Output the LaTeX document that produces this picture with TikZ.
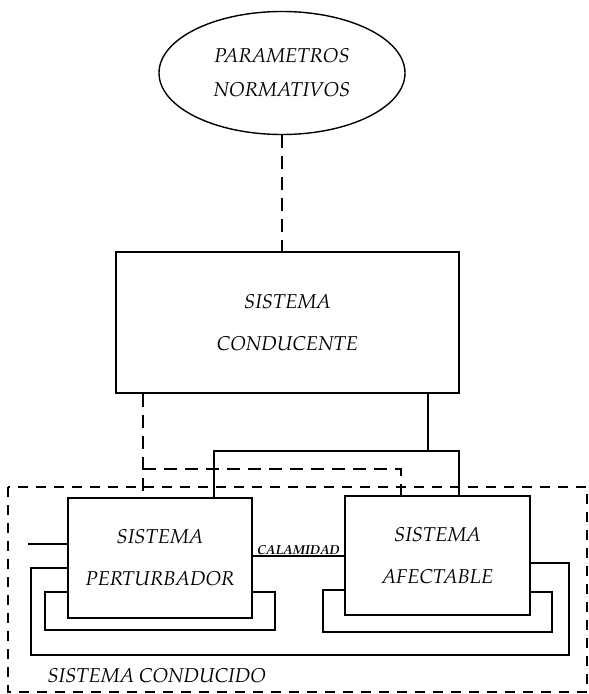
\documentclass[tikz,border=0pt]{standalone}
\usepackage[T1]{fontenc}
\usepackage{mathpazo}
\usepackage{tikz}
\usetikzlibrary{positioning}
\usetikzlibrary{shapes.geometric}

\begin{document}
\begin{tikzpicture}[
  x=1pt, y=-1pt,
  font=\fontsize{20}{42}\selectfont\itshape,
  sysbox/.style={draw, line width=1.4pt, align=center},
  oval/.style={draw, ellipse, line width=1.4pt, align=center, font=\fontsize{20}{34}\selectfont\itshape},
  wline/.style={line width=1.3pt},
  dline/.style={line width=1.3pt, dash pattern=on 13pt off 8pt},
  frame/.style={line width=1.3pt, dash pattern=on 10pt off 8pt},
  tag/.style={font=\fontsize{13}{15}\selectfont\bfseries\itshape, inner sep=0.6pt}
]
\useasboundingbox (0,0) rectangle (589,694);

% Blocks
\node[oval, minimum width=246pt, minimum height=123pt] (param) at (282,73) {PARAMETROS\\NORMATIVOS};
\node[sysbox, minimum width=343pt, minimum height=141pt] (cond) at (287.5,322.5) {SISTEMA\\CONDUCENTE};
\node[sysbox, minimum width=184pt, minimum height=120pt] (pert) at (160,558) {SISTEMA\\PERTURBADOR};
\node[sysbox, minimum width=185pt, minimum height=119pt] (afec) at (437.5,555.5) {SISTEMA\\AFECTABLE};

% Conducido frame
\draw[frame] (8,487) rectangle (587,692);
\node[anchor=base west] (cdo) at (44,682) {SISTEMA CONDUCIDO};

% Dashed links
\draw[dline] (param.south) -- (param.south |- cond.north);
\draw[dline] (143,0 |- cond.south) -- (143,0 |- pert.north);
\coordinate (dl) at (143,469);
\coordinate (dr) at (401,469);
\draw[dline] (dl) -- (dr) -- (dr |- afec.north);

% Solid links
\coordinate (sc) at (428,451);
\coordinate (sl) at (214,451);
\coordinate (sr) at (459,451);
\draw[wline] (sc |- cond.south) -- (sc);
\draw[wline] (sl |- pert.north) -- (sl) -- (sr) -- (sr |- afec.north);

% Input and calamidad
\coordinate (in) at (28,544);
\draw[wline] (in) -- (in -| pert.west);
\draw[wline] (pert.east |- 0,556) -- (afec.west |- 0,556)
  node[tag, midway, above] {CALAMIDAD};

% Feedback loops
\draw[wline] (pert.east |- 0,592) -- (275,592) -- (275,630) -- (45,630) -- (45,592) -- (pert.west |- 0,592);
\draw[wline] (pert.west |- 0,568) -- (31,568) -- (31,655) -- (569,655) -- (569,563) -- (afec.east |- 0,563);
\draw[wline] (afec.east |- 0,592) -- (552,592) -- (552,632) -- (323,632) -- (323,590) -- (afec.west |- 0,590);

\end{tikzpicture}
\end{document}
